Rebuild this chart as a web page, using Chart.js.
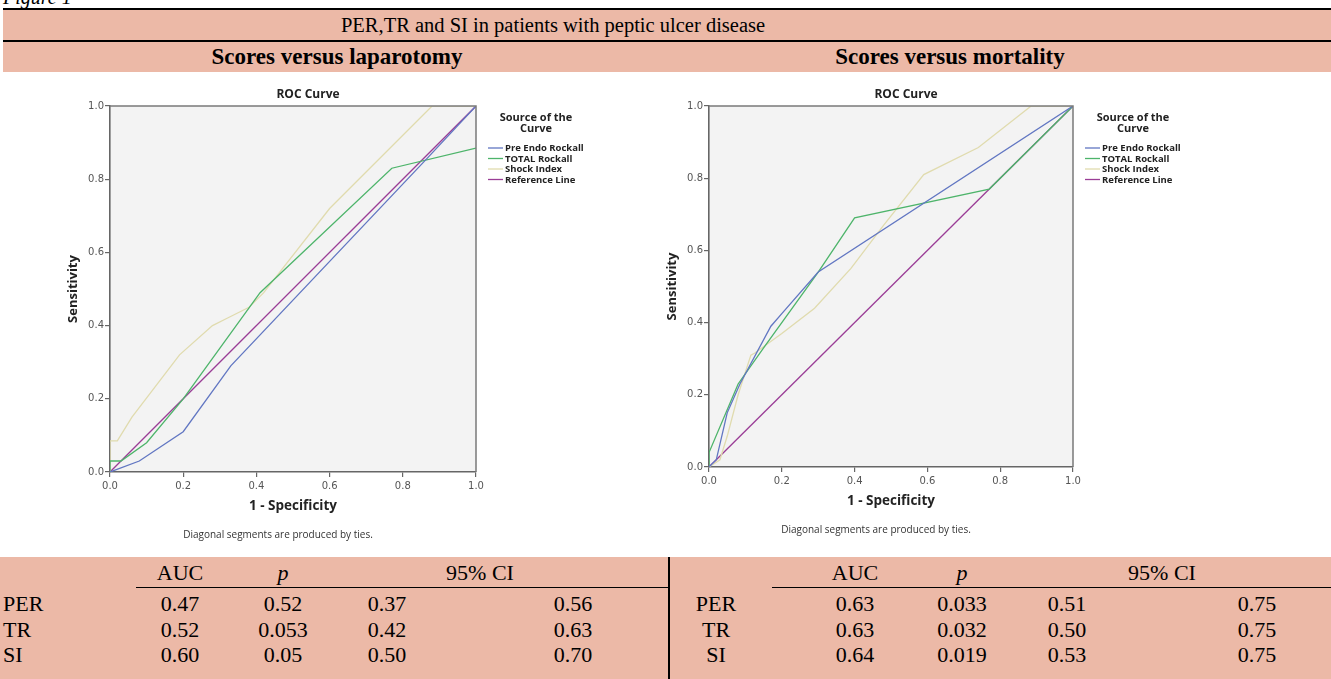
<!DOCTYPE html>
<html lang="en">
<head>
<meta charset="UTF-8">
<title>PER, TR and SI in peptic ulcer disease</title>
<script src="https://cdn.jsdelivr.net/npm/chart.js"></script>
<style>
  body {
    margin: 0;
    width: 1331px;
    height: 679px;
    overflow: hidden;
    position: relative;
    background: #fff;
    font-family: 'Liberation Serif', 'Times New Roman', serif;
    color: #000;
  }
  .fig {
    position: absolute;
    left: 3px;
    top: -14px;
    font-size: 20px;
    font-style: italic;
  }
  .band {
    position: absolute;
    left: 3px;
    right: 0;
    background: #ecb9a7;
  }
  .rule {
    position: absolute;
    background: #000;
  }
  .txt {
    position: absolute;
    white-space: nowrap;
    transform: translate(-50%, -50%);
  }
  .txt.left { transform: translate(0, -50%); }
  .head { font-size: 20.5px; }
  .sub { font-size: 23px; font-weight: bold; }
  .cell { font-size: 22px; }
  canvas { position: absolute; }
</style>
</head>
<body>
  <div class="fig">Figure 1</div>
  <div class="band" style="top:9px;height:63px;"></div>
  <div class="rule" style="left:3px;right:0;top:8px;height:2px;"></div>
  <div class="rule" style="left:3px;right:0;top:40px;height:1.5px;"></div>
  <div style="position:absolute;left:15px;width:1220px;top:72px;height:6px;background:#fff;"></div>

  <div class="band" style="top:557px;height:122px;left:0;"></div>
  <div class="rule" style="left:668px;width:1.5px;top:557px;height:122px;"></div>
  <div class="rule" style="left:136px;width:532px;top:587px;height:1px;"></div>
  <div class="rule" style="left:772px;right:0;top:587px;height:1px;"></div>

  <canvas id="lapChart" width="640" height="470" style="left:0;top:78px;"></canvas>
  <canvas id="morChart" width="660" height="465" style="left:640px;top:78px;"></canvas>

<script>
// ---- data ----
const seriesNames = ['Pre Endo Rockall', 'TOTAL Rockall', 'Shock Index', 'Reference Line'];
const seriesColors = ['#6176c2', '#4db46a', '#e0dbae', '#9a3d96'];

// scores versus laparotomy
const lapPreEndoX = [0, 0.08, 0.2, 0.33, 0.86, 1];
const lapPreEndoY = [0, 0.03, 0.11, 0.29, 0.85, 1];
const lapTotalX = [0, 0, 0.03, 0.1, 0.2, 0.41, 0.77, 1];
const lapTotalY = [0, 0.03, 0.03, 0.08, 0.2, 0.49, 0.83, 0.885];
const lapShockX = [0, 0, 0.02, 0.06, 0.19, 0.28, 0.32, 0.38, 0.42, 0.6, 0.88, 1];
const lapShockY = [0, 0.085, 0.085, 0.15, 0.32, 0.4, 0.42, 0.45, 0.49, 0.72, 1, 1];

// scores versus mortality
const morPreEndoX = [0, 0.02, 0.05, 0.085, 0.17, 0.2, 0.3, 1];
const morPreEndoY = [0, 0.02, 0.15, 0.23, 0.39, 0.425, 0.54, 1];
const morTotalX = [0, 0, 0.08, 0.15, 0.3, 0.4, 0.77, 1];
const morTotalY = [0, 0.04, 0.23, 0.33, 0.54, 0.69, 0.77, 1];
const morShockX = [0, 0.03, 0.05, 0.08, 0.115, 0.125, 0.2, 0.29, 0.39, 0.48, 0.59, 0.74, 0.885, 1];
const morShockY = [0, 0.02, 0.085, 0.2, 0.31, 0.315, 0.37, 0.44, 0.55, 0.67, 0.81, 0.885, 1, 1];

const refX = [0, 1];
const refY = [0, 1];

const axisTicks = [0, 0.2, 0.4, 0.6, 0.8, 1.0];

// table
const scoreNames = ['PER', 'TR', 'SI'];
const lapAUC = ['0.47', '0.52', '0.60'];
const lapP = ['0.52', '0.053', '0.05'];
const lapLow = ['0.37', '0.42', '0.50'];
const lapHigh = ['0.56', '0.63', '0.70'];
const morAUC = ['0.63', '0.63', '0.64'];
const morP = ['0.033', '0.032', '0.019'];
const morLow = ['0.51', '0.50', '0.53'];
const morHigh = ['0.75', '0.75', '0.75'];

// ---- text parts of the figure ----
function put(text, x, y, cls, left) {
  const d = document.createElement('div');
  d.className = 'txt ' + cls + (left ? ' left' : '');
  d.style.left = x + 'px';
  d.style.top = y + 'px';
  d.innerHTML = text;
  document.body.appendChild(d);
}

put('PER,TR and SI in patients with peptic ulcer disease', 553, 25, 'head');
put('Scores versus laparotomy', 337, 57, 'sub');
put('Scores versus mortality', 950, 57, 'sub');

function table(labelX, labelLeft, cols, values) {
  put('AUC', cols[0], 573, 'cell');
  put('<i>p</i>', cols[1], 573, 'cell');
  put('95% CI', (cols[2] + cols[3]) / 2, 573, 'cell');
  scoreNames.forEach((name, i) => {
    const y = 604 + i * 25.5;
    put(name, labelX, y, 'cell', labelLeft);
    values.forEach((arr, j) => put(arr[i], cols[j], y, 'cell'));
  });
}
table(3, true, [180, 283, 387, 573], [lapAUC, lapP, lapLow, lapHigh]);
table(716, false, [855, 962, 1067, 1257], [morAUC, morP, morLow, morHigh]);

// ---- charts ----
const plotFrame = {
  id: 'plotFrame',
  beforeDraw(chart) {
    const a = chart.chartArea, ctx = chart.ctx;
    ctx.save();
    ctx.fillStyle = '#f3f3f3';
    ctx.fillRect(a.left, a.top, a.right - a.left, a.bottom - a.top);
    ctx.restore();
  },
  afterDatasetsDraw(chart) {
    const a = chart.chartArea, ctx = chart.ctx;
    ctx.save();
    ctx.strokeStyle = '#7a7a7a';
    ctx.lineWidth = 1.5;
    ctx.beginPath();
    ctx.moveTo(a.left, a.top);
    ctx.lineTo(a.right, a.top);
    ctx.lineTo(a.right, a.bottom);
    ctx.stroke();
    ctx.restore();
  }
};

// SPSS style title, footnote and legend placed around the plot
const spssTexts = {
  id: 'spssTexts',
  afterDraw(chart) {
    const a = chart.chartArea, ctx = chart.ctx;
    const mid = (a.left + a.right) / 2;
    ctx.save();
    ctx.fillStyle = '#222';
    ctx.textBaseline = 'middle';
    ctx.textAlign = 'center';
    ctx.font = 'bold 12px "Open Sans"';
    ctx.fillText('ROC Curve', mid + 15, a.top - 11);
    ctx.fillStyle = '#333';
    ctx.font = '10px "Open Sans"';
    ctx.fillText('Diagonal segments are produced by ties.', mid - 15, a.bottom + 63);

    ctx.fillStyle = '#222';
    ctx.font = 'bold 11px "Open Sans"';
    ctx.fillText('Source of the', a.right + 60, a.top + 12);
    ctx.fillText('Curve', a.right + 60, a.top + 23);
    ctx.textAlign = 'left';
    ctx.font = 'bold 9.5px "Open Sans"';
    chart.data.datasets.forEach((ds, i) => {
      const y = a.top + 42 + i * 10.5;
      ctx.strokeStyle = ds.borderColor;
      ctx.lineWidth = 1.3;
      ctx.beginPath();
      ctx.moveTo(a.right + 12, y);
      ctx.lineTo(a.right + 27, y);
      ctx.stroke();
      ctx.fillText(ds.label, a.right + 29, y + 0.5);
    });
    ctx.restore();
  }
};

function points(xs, ys) {
  return xs.map((x, i) => ({ x: x, y: ys[i] }));
}

function axis(titleText, isX) {
  return {
    type: 'linear',
    min: 0,
    max: 1,
    afterBuildTicks: s => { s.ticks = axisTicks.map(v => ({ value: v })); },
    ticks: {
      color: '#555',
      font: { family: 'DejaVu Sans', size: 10 },
      padding: isX ? 3 : 1,
      maxRotation: 0,
      callback: v => Number(v).toFixed(1)
    },
    grid: { drawOnChartArea: false, drawTicks: true, tickLength: 5, color: '#666', lineWidth: 1.2 },
    border: { color: '#666', width: 1.6 },
    title: {
      display: true,
      text: titleText,
      color: '#222',
      font: { family: 'Open Sans', size: isX ? 13.5 : 13, weight: 'bold' },
      padding: isX ? { top: 0, bottom: 3 } : { top: 5, bottom: 0 }
    },
    afterFit: s => { if (isX) s.height = 45; else s.width = 50; }
  };
}

function rocChart(id, xsList, ysList, pad) {
  const datasets = seriesNames.map((name, i) => ({
    label: name,
    data: points(xsList[i], ysList[i]),
    borderColor: seriesColors[i],
    backgroundColor: seriesColors[i],
    borderWidth: 1.3,
    pointRadius: 0,
    showLine: true,
    tension: 0
  }));
  return new Chart(document.getElementById(id), {
    type: 'scatter',
    data: { datasets: datasets },
    options: {
      responsive: false,
      animation: false,
      layout: { padding: pad },
      scales: { x: axis('1 - Specificity', true), y: axis('Sensitivity', false) },
      plugins: {
        legend: { display: false },
        tooltip: { enabled: false }
      }
    },
    plugins: [plotFrame, spssTexts]
  });
}

rocChart('lapChart',
  [lapPreEndoX, lapTotalX, lapShockX, refX],
  [lapPreEndoY, lapTotalY, lapShockY, refY],
  { left: 60, right: 164, top: 28, bottom: 31 });

rocChart('morChart',
  [morPreEndoX, morTotalX, morShockX, refX],
  [morPreEndoY, morTotalY, morShockY, refY],
  { left: 19, right: 227, top: 28, bottom: 31 });
</script>
</body>
</html>
